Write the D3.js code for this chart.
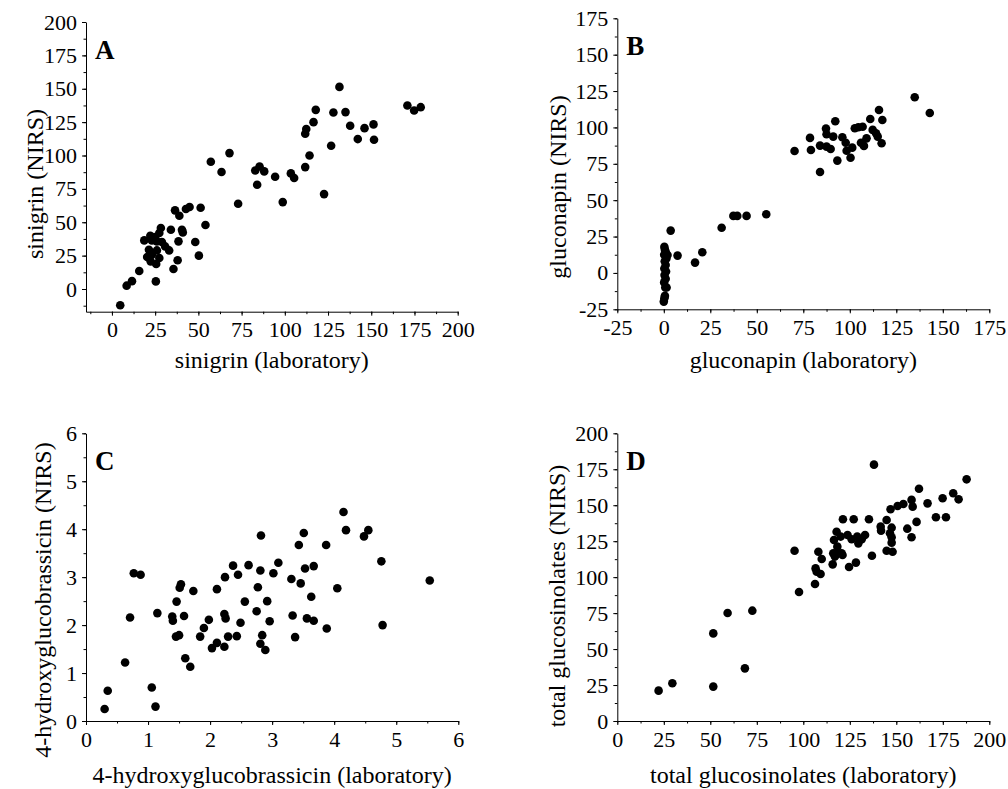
<!DOCTYPE html>
<html>
<head>
<meta charset="utf-8">
<script src="https://cdn.jsdelivr.net/npm/d3@7"></script>
<style>
  body { margin: 0; background: #fff; }
</style>
</head>
<body>
<div id="chart"></div>
<script>
const width = 1008;
const height = 789;
const serif = "Liberation Serif";

// [laboratory, NIRS] pairs
const sinigrin = [
  [4.8, -12.2], [8.5, 2.5], [11.6, 5.9], [15.8, 13.5], [18.7, 36.4], [22.2, 39.9],
  [23.1, 36.4], [25, 38.9], [27.4, 41.9], [28.3, 45.7], [26, 35.7], [28.9, 35.2],
  [30.8, 31.9], [33.1, 28.9], [21.4, 29.4], [20.4, 24], [22.4, 20.7], [25.6, 18.7],
  [27.4, 23.2], [26, 28.9], [23.1, 25.7], [25.4, 5.7], [34.1, 44.4], [35.6, 15],
  [38, 21.5], [38.5, 35.7], [39, 54.9], [36.5, 58.9], [40.5, 44.4], [41, 42.4],
  [42.8, 59.9], [44.9, 61.4], [48.2, 35.2], [50.3, 25], [51.3, 60.9], [54.1, 47.9],
  [57.2, 95.3], [63.4, 87.6], [68, 101.8], [73, 63.9], [82.9, 88.8], [85.4, 91.8],
  [88.1, 88.1], [84, 78.1], [94.4, 84.1], [98.8, 65.1], [103.5, 86.6], [105.4, 83.1],
  [111.8, 116.3], [112.4, 119.8], [111.8, 91.3], [114.3, 100], [116.6, 125], [117.9, 134.2],
  [122.7, 71.1], [126.8, 107.3], [128.1, 132.2], [131.6, 151.4], [135.1, 132.5], [137.8, 122.3],
  [142.2, 112.3], [146.1, 120.5], [151.3, 123.3], [151.6, 111.8], [170.9, 137.5], [174.8, 133.7],
  [178.6, 136.2]
];

const gluconapin = [
  [0, -19.7], [0.3, -17.4], [0.6, -15.8], [0.8, -10], [1.5, -10], [0.2, -6.5], [1, -4],
  [0.4, -1.5], [1.2, 1], [0.3, 3], [1, 5.5], [0.5, 8], [1.4, 10], [0.2, 12.5], [1, 14.5],
  [0.6, 16], [0.3, 17.9], [3.7, 29.1], [7.4, 11.9], [2, 12.3], [16.8, 7.1], [20.7, 14.2],
  [31.1, 31], [37.4, 39.2], [39.5, 39.2], [44.5, 39.2], [55.1, 40.3], [70.3, 83.8],
  [78.6, 92.8], [79.1, 84.5], [84, 69.4], [84, 87.5], [87.2, 99.2], [87.5, 95.3],
  [89.7, 85.2], [87.5, 86.8], [91.1, 93.7], [92.2, 104.2], [93.3, 77.2], [96, 93.2],
  [97.8, 89.5], [98.3, 84], [100.4, 79.2], [101.3, 86.1], [102.7, 99.4], [104.6, 100.1],
  [106.9, 100.5], [106, 89.5], [107.6, 87.3], [109, 92.5], [111, 105.8], [112.3, 98.3],
  [114.1, 96], [115, 93.7], [115.7, 112], [117.1, 89.1], [117.5, 105.1], [134.9, 120.7],
  [143, 109.9]
];

const hydroxy = [
  [0.30, 0.25], [0.35, 0.63], [0.63, 1.22], [0.71, 2.16], [0.77, 3.08], [0.88, 3.05],
  [1.06, 0.70], [1.12, 0.30], [1.15, 2.25], [1.39, 2.18], [1.40, 2.09], [1.46, 2.49],
  [1.45, 1.76], [1.50, 1.79], [1.51, 2.78], [1.53, 2.85], [1.58, 2.19], [1.60, 1.31],
  [1.68, 1.13], [1.73, 2.71], [1.84, 1.76], [1.90, 1.94], [1.98, 2.11], [2.03, 1.52],
  [2.11, 1.63], [2.11, 2.75], [2.23, 2.23], [2.25, 2.14], [2.23, 1.55], [2.24, 3.00],
  [2.29, 1.76], [2.37, 3.24], [2.43, 1.77], [2.45, 3.05], [2.49, 2.05], [2.56, 2.49],
  [2.62, 3.25], [2.75, 2.29], [2.77, 2.79], [2.81, 3.14], [2.82, 3.87], [2.81, 1.61],
  [2.84, 1.79], [2.89, 1.48], [2.92, 2.50], [2.96, 2.08], [3.02, 3.08], [3.10, 3.30],
  [3.31, 2.96], [3.33, 2.20], [3.37, 1.75], [3.43, 3.67], [3.46, 2.87], [3.51, 3.92],
  [3.53, 3.18], [3.56, 2.14], [3.63, 2.59], [3.67, 2.09], [3.67, 3.23], [3.87, 3.67],
  [3.88, 1.93], [4.05, 2.77], [4.15, 4.36], [4.19, 3.98], [4.48, 3.85], [4.55, 3.98],
  [4.76, 3.33], [4.78, 2.00], [5.54, 2.93]
];

const totalGsl = [
  [22.2, 21.1], [29.6, 26.2], [51.6, 60.9], [51.6, 23.9], [59.3, 75.1], [68.6, 36.6],
  [72.6, 76.7], [95.3, 118.4], [97.7, 89.7], [106.3, 95.2], [106.6, 106.1], [107.2, 103.8],
  [108.1, 117.7], [109.3, 102.2], [109.9, 112.6], [115.8, 108.9], [116.1, 116.6], [116.5, 125.8],
  [117, 114.3], [117.9, 131.6], [118.3, 121.2], [118.8, 116.6], [120.1, 128.2], [120.6, 116.6],
  [121.3, 140.2], [121.1, 115.4], [123.8, 129.3], [124.6, 107.1], [126, 126.3], [127.1, 140.2],
  [128.3, 110.1], [129, 128.2], [129.6, 123.5], [131.4, 126.3], [133.2, 129.3], [135.3, 140.2],
  [136.9, 114.9], [138, 178.2], [141.6, 135.1], [141.8, 132.3], [144.8, 139.7], [144.8, 118.4],
  [146.6, 130.5], [146.9, 147.2], [147.5, 134.4], [147.5, 127.7], [147.5, 124], [148, 117.7],
  [150.7, 149.5], [153.8, 150.9], [155.9, 133.7], [158.2, 153.7], [158.8, 149], [158.2, 127.7],
  [160.9, 138.4], [162.2, 161.5], [166.8, 151.3], [171.3, 141.6], [174.9, 154.8], [176.7, 141.6],
  [180.6, 158.3], [183.5, 154.1], [187.8, 168]
];

const ticks25 = [0, 25, 50, 75, 100, 125, 150, 175, 200];
const ticksB = [-25, 0, 25, 50, 75, 100, 125, 150, 175];
const ticks6 = [0, 1, 2, 3, 4, 5, 6];

const panels = [
  { letter: "A", data: sinigrin, xLabel: "sinigrin (laboratory)", yLabel: "sinigrin (NIRS)",
    x: [-15, 200], y: [-17, 200], xTicks: ticks25, yTicks: ticks25, step: 12.5,
    left: 86, right: 457.7, top: 22, bottom: 311.7, yLabelX: 43, yLabelY: 184, xLabelY: 368 },
  { letter: "B", data: gluconapin, xLabel: "gluconapin (laboratory)", yLabel: "gluconapin (NIRS)",
    x: [-25, 175], y: [-25, 175], xTicks: ticksB, yTicks: ticksB, step: 12.5,
    left: 617.3, right: 989.3, top: 18.3, bottom: 309.3, yLabelX: 566, yLabelY: 187, xLabelY: 368 },
  { letter: "C", data: hydroxy, xLabel: "4-hydroxyglucobrassicin (laboratory)", yLabel: "4-hydroxyglucobrassicin (NIRS)",
    x: [0, 6], y: [0, 6], xTicks: ticks6, yTicks: ticks6, step: 0.5,
    left: 86, right: 458.3, top: 433.3, bottom: 721, yLabelX: 51, yLabelY: 600, xLabelY: 783 },
  { letter: "D", data: totalGsl, xLabel: "total glucosinolates (laboratory)", yLabel: "total glucosinolates (NIRS)",
    x: [0, 200], y: [0, 200], xTicks: ticks25, yTicks: ticks25, step: 12.5,
    left: 617.3, right: 989.3, top: 433.3, bottom: 721, yLabelX: 565, yLabelY: 596, xLabelY: 783 }
];

const svg = d3.select("#chart").append("svg")
  .attr("width", width)
  .attr("height", height);

function minorTicks(domain, step) {
  const out = [];
  const start = Math.ceil(domain[0] / step) * step;
  for (let v = start; v <= domain[1] + 1e-9; v += step) out.push(+v.toFixed(4));
  return out;
}

panels.forEach(p => {
  const g = svg.append("g");
  const x = d3.scaleLinear().domain(p.x).range([p.left, p.right]);
  const y = d3.scaleLinear().domain(p.y).range([p.bottom, p.top]);

  // minor ticks
  g.append("g")
    .attr("transform", `translate(0, ${p.bottom})`)
    .call(d3.axisBottom(x).tickValues(minorTicks(p.x, p.step)).tickSize(2.5).tickSizeOuter(0).tickFormat(""))
    .call(a => a.select(".domain").remove());
  g.append("g")
    .attr("transform", `translate(${p.left}, 0)`)
    .call(d3.axisLeft(y).tickValues(minorTicks(p.y, p.step)).tickSize(2.5).tickSizeOuter(0).tickFormat(""))
    .call(a => a.select(".domain").remove());

  const xAxis = g.append("g")
    .attr("transform", `translate(0, ${p.bottom})`)
    .call(d3.axisBottom(x).tickValues(p.xTicks).tickSize(4).tickPadding(6).tickSizeOuter(0).tickFormat(d => String(d)));
  const yAxis = g.append("g")
    .attr("transform", `translate(${p.left}, 0)`)
    .call(d3.axisLeft(y).tickValues(p.yTicks).tickSize(4).tickPadding(5).tickSizeOuter(0).tickFormat(d => String(d)));

  [xAxis, yAxis].forEach(a => {
    a.selectAll("text")
      .style("font-family", serif)
      .style("font-size", "22px")
      .attr("fill", "#000");
    a.selectAll("line, path").attr("stroke", "#000").attr("stroke-width", 1);
  });
  g.selectAll(".tick line").attr("stroke", "#000");

  g.selectAll("circle.pt")
    .data(p.data)
    .join("circle")
    .attr("class", "pt")
    .attr("cx", d => x(d[0]))
    .attr("cy", d => y(d[1]))
    .attr("r", 4.3)
    .attr("fill", "#000");

  g.append("text")
    .attr("x", p.left + 9)
    .attr("y", p.top + 37)
    .style("font-family", serif)
    .style("font-size", "27px")
    .style("font-weight", "bold")
    .text(p.letter);

  g.append("text")
    .attr("x", (p.left + p.right) / 2)
    .attr("y", p.xLabelY)
    .attr("text-anchor", "middle")
    .style("font-family", serif)
    .style("font-size", "24px")
    .text(p.xLabel);

  g.append("text")
    .attr("transform", `translate(${p.yLabelX}, ${p.yLabelY}) rotate(-90)`)
    .attr("text-anchor", "middle")
    .style("font-family", serif)
    .style("font-size", "24px")
    .text(p.yLabel);
});
</script>
</body>
</html>
